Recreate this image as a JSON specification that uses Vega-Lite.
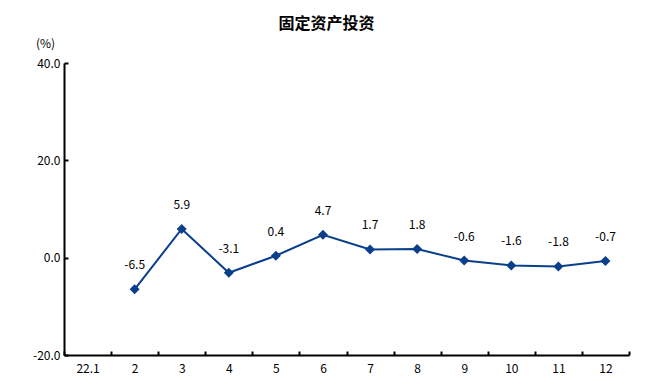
{
  "$schema": "https://vega.github.io/schema/vega-lite/v6.json",
  "autosize": "none",
  "width": 565,
  "height": 292,
  "padding": {"left": 64, "top": 63, "right": 23, "bottom": 36},
  "background": "white",
  "title": {"text": "固定资产投资", "font": "Noto Sans CJK SC", "fontSize": 16, "fontWeight": "bold", "color": "#000000", "anchor": "middle", "dx": -20, "offset": 5},
  "config": {"view": {"stroke": null}, "font": "Noto Sans CJK SC",
    "locale": {"number": {"decimal": ".", "thousands": ",", "grouping": [3], "currency": ["", ""], "minus": "-"}}},
  "data": {"values": [
    {"month": "2", "value": -6.5},
    {"month": "3", "value": 5.9},
    {"month": "4", "value": -3.1},
    {"month": "5", "value": 0.4},
    {"month": "6", "value": 4.7},
    {"month": "7", "value": 1.7},
    {"month": "8", "value": 1.8},
    {"month": "9", "value": -0.6},
    {"month": "10", "value": -1.6},
    {"month": "11", "value": -1.8},
    {"month": "12", "value": -0.7}
  ]},
  "encoding": {
    "x": {"field": "month", "type": "nominal", "sort": null,
      "scale": {"domain": ["22.1","2","3","4","5","6","7","8","9","10","11","12"], "paddingInner": 0, "paddingOuter": 0},
      "axis": {"title": null, "labelAngle": 0, "domainColor": "#000000", "domainWidth": 2, "tickColor": "#000000", "tickWidth": 2, "tickSize": -4, "tickBand": "extent", "labelPadding": 12, "labelFontSize": 12, "labelColor": "#000000", "labelFont": "Noto Sans CJK SC"}},
    "y": {"field": "value", "type": "quantitative",
      "scale": {"domain": [-20, 40], "nice": false, "zero": false},
      "axis": {"values": [-20, 0, 20, 40], "format": ".1f", "grid": false, "title": "(%)", "titleAngle": 0, "titleX": -19, "titleY": -20, "titleAlign": "center", "titleBaseline": "middle", "titleFontSize": 12, "titleFontWeight": "normal", "titleColor": "#000000", "domainColor": "#000000", "domainWidth": 2, "tickColor": "#000000", "tickWidth": 2, "tickSize": -4, "labelPadding": 8, "labelFontSize": 12, "labelColor": "#000000", "labelFont": "Noto Sans CJK SC"}}
  },
  "layer": [
    {"mark": {"type": "line", "color": "#0a3f8c", "strokeWidth": 2}},
    {"mark": {"type": "point", "shape": "diamond", "filled": true, "color": "#0a3f8c", "size": 100, "opacity": 1}},
    {"mark": {"type": "text", "dy": -24, "fontSize": 12, "color": "#000000", "font": "Noto Sans CJK SC"},
      "encoding": {"text": {"field": "value", "type": "quantitative", "format": ".1f"}}}
  ]
}
